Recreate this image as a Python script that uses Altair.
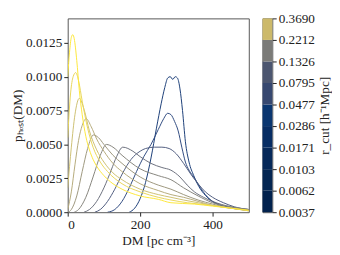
import altair as alt
import pandas as pd

# colour-bar tick labels (r_cut values) and colours
r_labels = ['0.0037', '0.0062', '0.0103', '0.0171', '0.0286',
            '0.0477', '0.0795', '0.1326', '0.2212', '0.3690']
line_colors = ['#1b3d78', '#2f4a80', '#505c7f', '#6b6f7c', '#85837c',
               '#9d977d', '#b5aa7a', '#cdbf72', '#e8d65a', '#fde73a']
band_colors = ['#02224e', '#042652', '#06295a', '#072d64', '#0a3670',
               '#374870', '#4c5670', '#7b7b78', '#ccb96a']

# curves, one per r_cut (DM in pc cm^-3, p_host)
dm_0037 = [170, 185, 200, 215, 230, 245, 258, 268, 276, 283, 290, 297, 303, 310, 317, 325, 335, 348, 362, 380, 400, 425, 460, 500]
p_0037 = [0, 0.0003, 0.0010, 0.0022, 0.0040, 0.0062, 0.0080, 0.0092, 0.0099, 0.0100, 0.0098, 0.0100, 0.0099, 0.0091, 0.0075, 0.0052, 0.0037, 0.0027, 0.0019, 0.00125, 0.00078, 0.0005, 0.00028, 0.00015]

dm_0062 = [110, 130, 150, 170, 190, 210, 230, 250, 265, 276, 285, 295, 305, 315, 325, 335, 348, 362, 380, 400, 425, 460, 500]
p_0062 = [0, 0.0002, 0.0008, 0.0018, 0.0030, 0.0041, 0.0050, 0.0061, 0.0069, 0.0073, 0.0072, 0.0067, 0.0060, 0.0048, 0.0037, 0.0031, 0.0026, 0.0020, 0.0013, 0.0008, 0.0005, 0.00028, 0.00015]

dm_0103 = [75, 90, 110, 130, 152, 175, 200, 215, 240, 260, 280, 300, 320, 340, 360, 380, 400, 430, 460, 500]
p_0103 = [0, 0.0002, 0.0008, 0.0017, 0.0029, 0.0039, 0.0045, 0.0047, 0.0048, 0.0048, 0.0047, 0.0043, 0.0036, 0.0028, 0.0021, 0.0015, 0.0011, 0.0007, 0.0004, 0.0002]

dm_0171 = [45, 60, 80, 100, 120, 135, 152, 180, 200, 230, 260, 285, 310, 330, 350, 375, 400, 450, 500]
p_0171 = [0, 0.0002, 0.0008, 0.0018, 0.0031, 0.0041, 0.0048, 0.0045, 0.0041, 0.0036, 0.0033, 0.0031, 0.0026, 0.0020, 0.0015, 0.0011, 0.0008, 0.0004, 0.0002]

dm_0286 = [18, 30, 50, 70, 90, 107, 125, 150, 200, 250, 285, 320, 360, 400, 450, 500]
p_0286 = [0, 0.0002, 0.0011, 0.0026, 0.0042, 0.0050, 0.0048, 0.0042, 0.0032, 0.0027, 0.0024, 0.0018, 0.0012, 0.0007, 0.0004, 0.0002]

dm_0477 = [2, 10, 25, 40, 55, 71, 85, 100, 125, 150, 200, 250, 285, 320, 360, 400, 450, 500]
p_0477 = [0, 0.0002, 0.0012, 0.0030, 0.0047, 0.0057, 0.0055, 0.0050, 0.0042, 0.0036, 0.0026, 0.0020, 0.0017, 0.0013, 0.0009, 0.0006, 0.0003, 0.00015]

dm_0795 = [0, 10, 20, 30, 40, 51, 65, 80, 100, 125, 150, 200, 250, 285, 320, 360, 400, 450, 500]
p_0795 = [0.0002, 0.0015, 0.0035, 0.0053, 0.0064, 0.0069, 0.0063, 0.0054, 0.0045, 0.0036, 0.0030, 0.0021, 0.0016, 0.0013, 0.0011, 0.0008, 0.0005, 0.0003, 0.00012]

dm_1326 = [0, 10, 20, 32, 45, 60, 80, 100, 125, 150, 200, 250, 285, 320, 360, 400, 450, 500]
p_1326 = [0.0018, 0.0048, 0.0072, 0.0084, 0.0076, 0.0060, 0.0046, 0.0037, 0.0029, 0.0024, 0.0017, 0.0013, 0.0011, 0.0009, 0.0007, 0.0005, 0.0003, 0.0001]

dm_2212 = [0, 8, 15, 22, 30, 40, 55, 70, 90, 110, 150, 200, 250, 285, 330, 400, 450, 500]
p_2212 = [0.0055, 0.0088, 0.0100, 0.0103, 0.0097, 0.0082, 0.0062, 0.0048, 0.0037, 0.0030, 0.0021, 0.0015, 0.0011, 0.0009, 0.0007, 0.0005, 0.0003, 0.0001]

dm_3690 = [0, 5, 10, 14, 18, 25, 32, 40, 50, 60, 70, 80, 100, 125, 150, 200, 250, 285, 350, 400, 450, 500]
p_3690 = [0.0100, 0.0118, 0.0129, 0.0131, 0.0128, 0.0112, 0.0090, 0.0072, 0.0056, 0.0046, 0.0039, 0.0034, 0.0027, 0.0021, 0.0017, 0.0012, 0.00095, 0.0007, 0.0006, 0.00045, 0.0003, 0.00015]

curve_dm = [dm_0037, dm_0062, dm_0103, dm_0171, dm_0286, dm_0477, dm_0795, dm_1326, dm_2212, dm_3690]
curve_p = [p_0037, p_0062, p_0103, p_0171, p_0286, p_0477, p_0795, p_1326, p_2212, p_3690]

rows = []
for i, (lab, xs, ys) in enumerate(zip(r_labels, curve_dm, curve_p)):
    for x, y in zip(xs, ys):
        rows.append({'r': lab, 'order': i, 'dm': x, 'p': y})
df = pd.DataFrame(rows)

y_ticks = [0, 0.0025, 0.005, 0.0075, 0.01, 0.0125]
x_ticks = [0, 200, 400]

FONT = 'Liberation Serif'

lines = alt.Chart(df).mark_line(strokeWidth=1, interpolate='monotone', clip=True).encode(
    x=alt.X('dm:Q', scale=alt.Scale(domain=[0, 500], nice=False),
            axis=alt.Axis(values=x_ticks, title='DM [pc cm⁻³]', format='d')),
    y=alt.Y('p:Q', scale=alt.Scale(domain=[0, 0.0143], nice=False),
            axis=alt.Axis(values=y_ticks, format='.4f', title='pₕₒₛₜ(DM)', titlePadding=1)),
    color=alt.Color('r:N', scale=alt.Scale(domain=r_labels, range=line_colors), legend=None),
    order=alt.Order('order:Q'),
).properties(width=185, height=198)

bands = pd.DataFrame({
    'lo': list(range(9)),
    'hi': list(range(1, 10)),
    'col': band_colors,
})

label_arr = '[' + ','.join("'" + s + "'" for s in r_labels) + ']'

cbar = alt.Chart(bands).mark_rect().encode(
    x=alt.value(0), x2=alt.value(10),
    y=alt.Y('lo:Q', scale=alt.Scale(domain=[0, 9], nice=False),
            axis=alt.Axis(orient='right', values=list(range(10)),
                          labelExpr=label_arr + '[datum.value]',
                          title='r_cut [h⁻¹Mpc]', titleAngle=270, titleBaseline='top')),
    y2='hi',
    color=alt.Color('col:N', scale=None),
).properties(width=10, height=198)

chart = alt.hconcat(lines, cbar, spacing=12).properties(
    padding={'left': 2, 'top': 0, 'right': 0, 'bottom': 0}
).configure_view(
    stroke='#555555', strokeWidth=1
).configure_axis(
    labelFont=FONT, titleFont=FONT, labelFontSize=13.5, titleFontSize=13.5,
    labelColor='#222222', titleColor='#222222', titleFontWeight='normal',
    tickColor='#222222', tickSize=4, domain=False, grid=False,
    labelPadding=2, titlePadding=3
)

chart.save('out.html', embed_options={'renderer': 'svg', 'actions': False})
